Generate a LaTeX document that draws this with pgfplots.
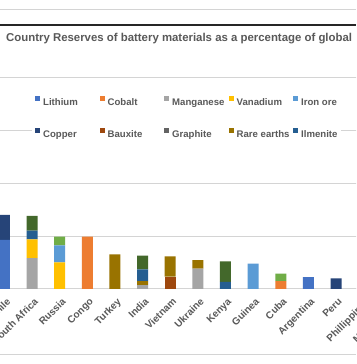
\documentclass[border=0pt]{standalone}
\usepackage{pgfplots}
\pgfplotsset{compat=1.18}
\usepackage{pgfplotstable}
\usepackage{fontspec}
\setmainfont{Liberation Sans}
\definecolor{cLi}{HTML}{4472C4}
\definecolor{cCo}{HTML}{ED7D31}
\definecolor{cMn}{HTML}{A5A5A5}
\definecolor{cV}{HTML}{FFC000}
\definecolor{cFe}{HTML}{5B9BD5}
\definecolor{cNi}{HTML}{70AD47}
\definecolor{cCu}{HTML}{264478}
\definecolor{cBx}{HTML}{9E480E}
\definecolor{cGr}{HTML}{636363}
\definecolor{cRE}{HTML}{997300}
\definecolor{cIlm}{HTML}{255E91}
\definecolor{cZr}{HTML}{43682B}
\definecolor{txt}{HTML}{595959}
\definecolor{grid}{HTML}{D4D4D4}
\pgfplotstableread{
x  Li   Co   Mn   V    Fe  Ni  Cu  Bx  Gr  RE   Ilm  Zr
0  18.6 0    0    0    0   0   9.5 0   0   0    0    0
1  0    0    11.7 7.1  0   0   0   0   0   0    3.3  5.6
2  0    0    0    10.1 6.4 3.3 0   0   0   0    0    0
3  0    19.8 0    0    0   0   0   0   0   0    0    0
4  0    0    0    0    0   0   0   0   0   13.1 0    0
5  0    0    1.5  0    0   0   0   0   0   1.5  4.4  5.2
6  0    0    0    0    0   0   0   4.7 0   7.7  0    0
7  0    0    7.7  0    0   0   0   0   0   3.2  0    0
8  0    0    0    0    0   0   0   0   0   0    2.7  7.8
9  0    0    0    0    9.6 0   0   0   0   0    0    0
10 0    3.0  0    0    0   2.8 0   0   0   0    0    0
11 4.5  0    0    0    0   0   0   0   0   0    0    0
12 0    0    0    0    0   0   4.0 0   0   0    0    0
13 0    0    0    0    0   4.0 0   0   0   0    0    0
14 0    0    0    0    0   0   0   0   3.0 0    2.0  0
}\data
\begin{document}
\begin{tikzpicture}[x=1pt,y=1pt]
\useasboundingbox (0,0) rectangle (356,364);
\fill[white] (0,0) rectangle (356,364);
\clip (0,0) rectangle (356,364);
\draw[grid, line width=1pt] (0,354) -- (356,354);
\draw[grid, line width=1pt] (0,9.5) -- (356,9.5);
\begin{axis}[
  at={(-12.22pt,75pt)}, anchor=south west,
  x=27.64pt, y=2.64pt,
  xmin=-0.6, xmax=14.6, ymin=0, ymax=100,
  enlargelimits=false,
  ybar stacked, bar width=11pt,
  axis x line*=bottom, axis y line*=left,
  x axis line style={draw=grid, line width=1pt},
  y axis line style={draw=none},
  ymajorgrids, grid style={draw=grid, line width=1pt},
  ytick={0,20,...,100}, yticklabels={}, ytick style={draw=none},
  xtick={0,...,14}, xtick style={draw=none},
  xticklabels={Chile,South Africa,Russia,Congo,Turkey,India,Vietnam,Ukraine,Kenya,Guinea,Cuba,Argentina,Peru,Phillippines,Madagascar},
  xticklabel style={xshift=1.5pt, yshift=-8pt, rotate=45, anchor=north east, inner sep=0pt,
    font=\fontsize{10}{12}\selectfont\bfseries, text=txt},
  title={Country Reserves of battery materials as a percentage of global},
  title style={at={(axis description cs:0.04337,0.9375)}, anchor=base west, inner sep=0pt, yshift=-6.5pt,
    font=\fontsize{11.4}{13.7}\selectfont\bfseries, text=txt},
  legend columns=5,
  legend cell align=left,
  legend image code/.code={\fill[#1] (0pt,0.7pt) rectangle (5pt,5.7pt);},
  legend style={at={(axis description cs:0.10526,0.7424)}, anchor=north west,
    draw=none, fill=white, inner sep=3pt, row sep=21.5pt,
    font=\fontsize{9.6}{11.5}\selectfont\bfseries, text=txt,
    nodes={inner sep=0pt},
    /tikz/every odd column/.append style={column sep=3pt}},
]
\addplot[fill=cLi, draw=none] table[x=x,y=Li]{\data};
\addlegendentry{\makebox[56.5pt][l]{\strut Lithium}}
\addplot[fill=cCo, draw=none] table[x=x,y=Co]{\data};
\addlegendentry{\makebox[56.5pt][l]{\strut Cobalt}}
\addplot[fill=cMn, draw=none] table[x=x,y=Mn]{\data};
\addlegendentry{\makebox[56.5pt][l]{\strut Manganese}}
\addplot[fill=cV, draw=none] table[x=x,y=V]{\data};
\addlegendentry{\makebox[56.5pt][l]{\strut Vanadium}}
\addplot[fill=cFe, draw=none] table[x=x,y=Fe]{\data};
\addlegendentry{\makebox[37pt][l]{\strut Iron ore}}
\addplot[fill=cNi, draw=none, forget plot] table[x=x,y=Ni]{\data};
\addplot[fill=cCu, draw=none] table[x=x,y=Cu]{\data};
\addlegendentry{\makebox[56.5pt][l]{\strut Copper}}
\addplot[fill=cBx, draw=none] table[x=x,y=Bx]{\data};
\addlegendentry{\makebox[56.5pt][l]{\strut Bauxite}}
\addplot[fill=cGr, draw=none] table[x=x,y=Gr]{\data};
\addlegendentry{\makebox[56.5pt][l]{\strut Graphite}}
\addplot[fill=cRE, draw=none] table[x=x,y=RE]{\data};
\addlegendentry{\makebox[56.5pt][l]{\strut Rare earths}}
\addplot[fill=cIlm, draw=none] table[x=x,y=Ilm]{\data};
\addlegendentry{\makebox[37pt][l]{\strut Ilmenite}}
\addplot[fill=cZr, draw=none, forget plot] table[x=x,y=Zr]{\data};
\end{axis}
\draw[black!85, line width=1.4pt] (0,339) -- (356,339);
\end{tikzpicture}
\end{document}
